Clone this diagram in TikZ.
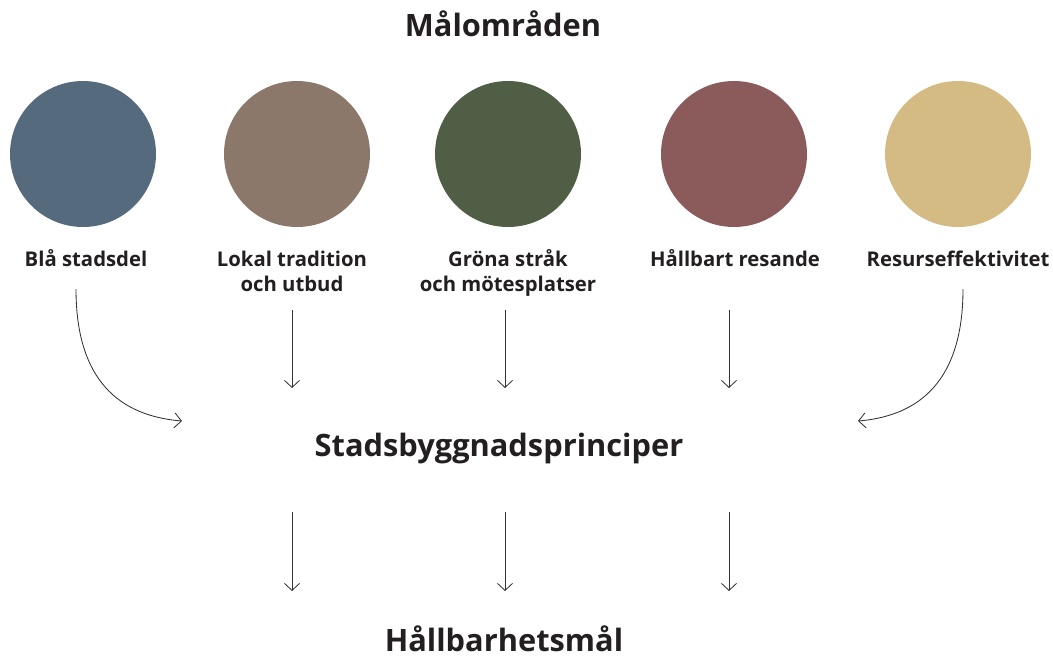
\documentclass[tikz,border=0pt]{standalone}
\usepackage{fontspec}
\setmainfont{Open Sans}
\usetikzlibrary{arrows.meta}
\definecolor{MObla}{HTML}{566A7D}
\definecolor{MOlok}{HTML}{8B786B}
\definecolor{MOgro}{HTML}{505E45}
\definecolor{MOres}{HTML}{8B5A5A}
\definecolor{MOeff}{HTML}{D4BB84}
\definecolor{MOtxt}{HTML}{231F20}
\newcommand{\MOtwo}[1]{\begin{tabular}[t]{@{}c@{}}#1\end{tabular}}
\tikzset{MOcirc/.style={circle,minimum size=146pt,inner sep=0pt},
         MOlab/.style={font=\bfseries\fontsize{20.3}{25}\selectfont,text=MOtxt,anchor=base,inner sep=0pt},
         MOhead/.style={font=\bfseries\fontsize{30.8}{36}\selectfont,text=MOtxt,anchor=base,inner sep=0pt},
         MOarr/.style={draw=black!80,line width=0.85pt,-{Straight Barb[length=7pt,width=15pt]}}}

\begin{document}
\begin{tikzpicture}[x=1pt,y=-1pt]
  \useasboundingbox (0,0) rectangle (1053,657);
  % headings
  \node[MOhead] (mal) at (503,36) {Målområden};
  \node[MOhead] (princ) at (499,456) {Stadsbyggnadsprinciper};
  \node[MOhead] (hall) at (504,651) {Hållbarhetsmål};
  % circles and labels
  \foreach \n/\x/\c/\t in {1/86/MObla/{Blå stadsdel},
                           2/292/MOlok/{Lokal tradition\\och utbud},
                           3/508/MOgro/{Gröna stråk\\och mötesplatser},
                           4/735/MOres/{Hållbart resande},
                           5/958/MOeff/{Resurseffektivitet}} {
    \node[MOlab] (l\n) at (\x,266) {\MOtwo{\t}};
  }
  \foreach \n/\x/\c in {1/83/MObla,2/297/MOlok,3/508/MOgro,4/734/MOres,5/958/MOeff}
    \node[MOcirc,fill=\c] (c\n) at (\x,154) {};
  % straight arrows
  \foreach \i/\x in {1/292,2/505,3/729} {
    \coordinate (a\i) at (\x,310); \coordinate (b\i) at (\x,388);
    \coordinate (d\i) at (\x,512); \coordinate (e\i) at (\x,591);
    \draw[MOarr] (a\i)--(b\i);
    \draw[MOarr] (d\i)--(e\i);
  }
  % curved arrows
  \coordinate (sl) at (76,289); \coordinate (el) at (182,421);
  \coordinate (sr) at (963,289); \coordinate (er) at (858,421);
  \draw[MOarr] (sl) .. controls (76,370) and (110,415) .. (el);
  \draw[MOarr] (sr) .. controls (963,370) and (929,415) .. (er);
\end{tikzpicture}
\end{document}
